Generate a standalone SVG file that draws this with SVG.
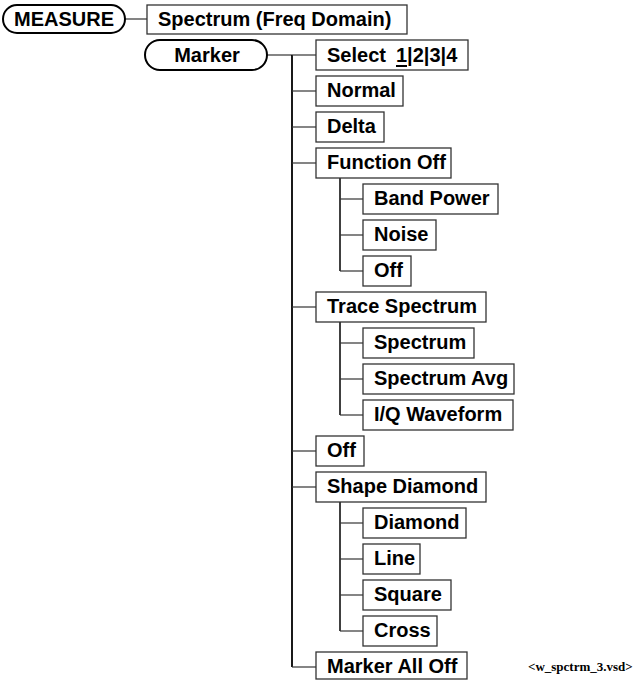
<svg xmlns="http://www.w3.org/2000/svg" width="644" height="680" viewBox="0 0 644 680">
<style>
.bg{fill:#fff}
.box{fill:#fff;stroke:#333;stroke-width:1.3}
.pill{fill:#fff;stroke:#000;stroke-width:2}
.t{font-family:"Liberation Sans",Arial,sans-serif;font-weight:bold;font-size:20px;fill:#000}
.tc{text-anchor:middle}
.br{stroke:#333;stroke-width:1.2;fill:none}
.trunk{stroke:#000;stroke-width:1.8;fill:none}
.sub{stroke:#000;stroke-width:1.5;fill:none}
.file{font-family:"Liberation Serif","Times New Roman",serif;font-weight:bold;font-size:13px;fill:#000}
</style>
<rect class="bg" x="0" y="0" width="644" height="680"/>

<g id="connectors">
  <line class="br" x1="125" y1="19" x2="147" y2="19"/>
  <line class="br" x1="267" y1="55" x2="292" y2="55"/>
  <line class="trunk" x1="292" y1="55" x2="292" y2="667"/>
  <line class="br" x1="292" y1="55" x2="316" y2="55"/>
  <line class="br" x1="292" y1="91" x2="316" y2="91"/>
  <line class="br" x1="292" y1="127" x2="316" y2="127"/>
  <line class="br" x1="292" y1="163" x2="316" y2="163"/>
  <line class="br" x1="292" y1="307" x2="316" y2="307"/>
  <line class="br" x1="292" y1="451" x2="316" y2="451"/>
  <line class="br" x1="292" y1="487" x2="316" y2="487"/>
  <line class="br" x1="292" y1="667" x2="316" y2="667"/>
  <line class="sub" x1="340" y1="178" x2="340" y2="271"/>
  <line class="br" x1="340" y1="199" x2="363" y2="199"/>
  <line class="br" x1="340" y1="235" x2="363" y2="235"/>
  <line class="br" x1="340" y1="271" x2="363" y2="271"/>
  <line class="sub" x1="340" y1="322" x2="340" y2="415"/>
  <line class="br" x1="340" y1="343" x2="363" y2="343"/>
  <line class="br" x1="340" y1="379" x2="363" y2="379"/>
  <line class="br" x1="340" y1="415" x2="363" y2="415"/>
  <line class="sub" x1="340" y1="502" x2="340" y2="631"/>
  <line class="br" x1="340" y1="523" x2="363" y2="523"/>
  <line class="br" x1="340" y1="559" x2="363" y2="559"/>
  <line class="br" x1="340" y1="595" x2="363" y2="595"/>
  <line class="br" x1="340" y1="631" x2="363" y2="631"/>
</g>

<g id="measure">
  <rect class="pill" x="3" y="5" width="122" height="28" rx="14" ry="14"/>
  <text class="t tc" x="64" y="25.5">MEASURE</text>
</g>
<g id="spectrum-freq">
  <rect class="box" x="147" y="5" width="260" height="29"/>
  <text class="t" x="158" y="26">Spectrum (Freq Domain)</text>
</g>
<g id="marker">
  <rect class="pill" x="145" y="40" width="122" height="30" rx="15" ry="15"/>
  <text class="t tc" x="207" y="62">Marker</text>
</g>

<g id="select">
  <rect class="box" x="316" y="40" width="152" height="30"/>
  <text class="t" x="327" y="61.5">Select <tspan x="396">1|2|3|4</tspan></text>
  <line x1="396" y1="66" x2="407" y2="66" stroke="#000" stroke-width="2"/>
</g>
<g id="normal">
  <rect class="box" x="316" y="76" width="87" height="30"/>
  <text class="t" x="327" y="97">Normal</text>
</g>
<g id="delta">
  <rect class="box" x="316" y="112" width="68" height="30"/>
  <text class="t" x="327" y="133">Delta</text>
</g>
<g id="function-off">
  <rect class="box" x="316" y="148" width="135" height="30"/>
  <text class="t" x="327" y="169">Function Off</text>
</g>
<g id="band-power">
  <rect class="box" x="363" y="184" width="135" height="30"/>
  <text class="t" x="374" y="205">Band Power</text>
</g>
<g id="noise">
  <rect class="box" x="363" y="220" width="73" height="30"/>
  <text class="t" x="374" y="241">Noise</text>
</g>
<g id="function-off-off">
  <rect class="box" x="363" y="256" width="48" height="30"/>
  <text class="t" x="374" y="277">Off</text>
</g>
<g id="trace-spectrum">
  <rect class="box" x="316" y="292" width="170" height="30"/>
  <text class="t" x="327" y="313">Trace Spectrum</text>
</g>
<g id="spectrum">
  <rect class="box" x="363" y="328" width="111" height="30"/>
  <text class="t" x="374" y="349">Spectrum</text>
</g>
<g id="spectrum-avg">
  <rect class="box" x="363" y="364" width="151" height="30"/>
  <text class="t" x="374" y="385">Spectrum Avg</text>
</g>
<g id="iq-waveform">
  <rect class="box" x="363" y="400" width="150" height="30"/>
  <text class="t" x="374" y="421">I/Q Waveform</text>
</g>
<g id="off">
  <rect class="box" x="316" y="436" width="48" height="30"/>
  <text class="t" x="327" y="457">Off</text>
</g>
<g id="shape-diamond">
  <rect class="box" x="316" y="472" width="170" height="30"/>
  <text class="t" x="327" y="493">Shape Diamond</text>
</g>
<g id="diamond">
  <rect class="box" x="363" y="508" width="103" height="30"/>
  <text class="t" x="374" y="529">Diamond</text>
</g>
<g id="line">
  <rect class="box" x="363" y="544" width="57" height="30"/>
  <text class="t" x="374" y="565">Line</text>
</g>
<g id="square">
  <rect class="box" x="363" y="580" width="88" height="30"/>
  <text class="t" x="374" y="601">Square</text>
</g>
<g id="cross">
  <rect class="box" x="363" y="616" width="74" height="30"/>
  <text class="t" x="374" y="637">Cross</text>
</g>
<g id="marker-all-off">
  <rect class="box" x="316" y="652" width="151" height="27"/>
  <text class="t" x="327" y="673">Marker All Off</text>
</g>

<text class="file" x="528" y="671">&lt;w_spctrm_3.vsd&gt;</text>
</svg>
